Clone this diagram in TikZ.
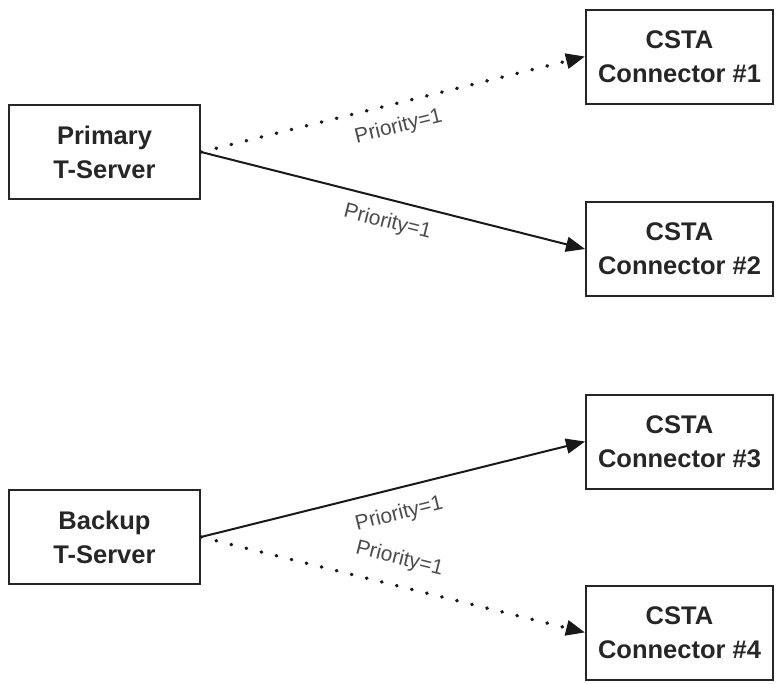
\documentclass[tikz,border=0pt]{standalone}
\usepackage{fontspec}
\setmainfont{Liberation Sans}
\usetikzlibrary{arrows.meta}

\begin{document}
\begin{tikzpicture}[x=1pt,y=-1pt,
    server/.style = {rectangle,draw=black!85,line width=2pt,minimum width=191pt,minimum height=94pt,
                     align=center,text=black!85,font=\bfseries\fontsize{25.5}{34}\selectfont},
    csta/.style   = {server,minimum width=187pt},
    link/.style   = {line width=2pt,draw=black!90,-{Triangle[length=19pt,width=15pt]}},
    dots/.style   = {link,line cap=round,dash pattern=on 0.5pt off 15pt,line width=3.5pt},
    prio/.style   = {inner sep=0pt,sloped,pos=0.5,text=black!70,font=\fontsize{21}{24}\selectfont}]
    \useasboundingbox (0,0) rectangle (776,683);
    \node[server] (primary) at (104.5,152) {Primary\\T-Server};
    \node[server] (backup) at (104.5,537) {Backup\\T-Server};
    \foreach \y [count=\n] in {56.5,249,441.5,632.5} \node[csta] (csta\n) at (679.5,\y) {CSTA\\Connector \#\n};
\draw[dots] (primary.east) -- node[prio,below=12pt] {Priority=1} (csta1.west);
\draw[link] (primary.east) -- node[prio,below=12pt] {Priority=1} (csta2.west);
\draw[link] (backup.east) -- node[prio,below=15pt] {Priority=1} (csta3.west);
\draw[dots] (backup.east) -- node[prio,above=15pt] {Priority=1} (csta4.west);
\end{tikzpicture}
\end{document}
